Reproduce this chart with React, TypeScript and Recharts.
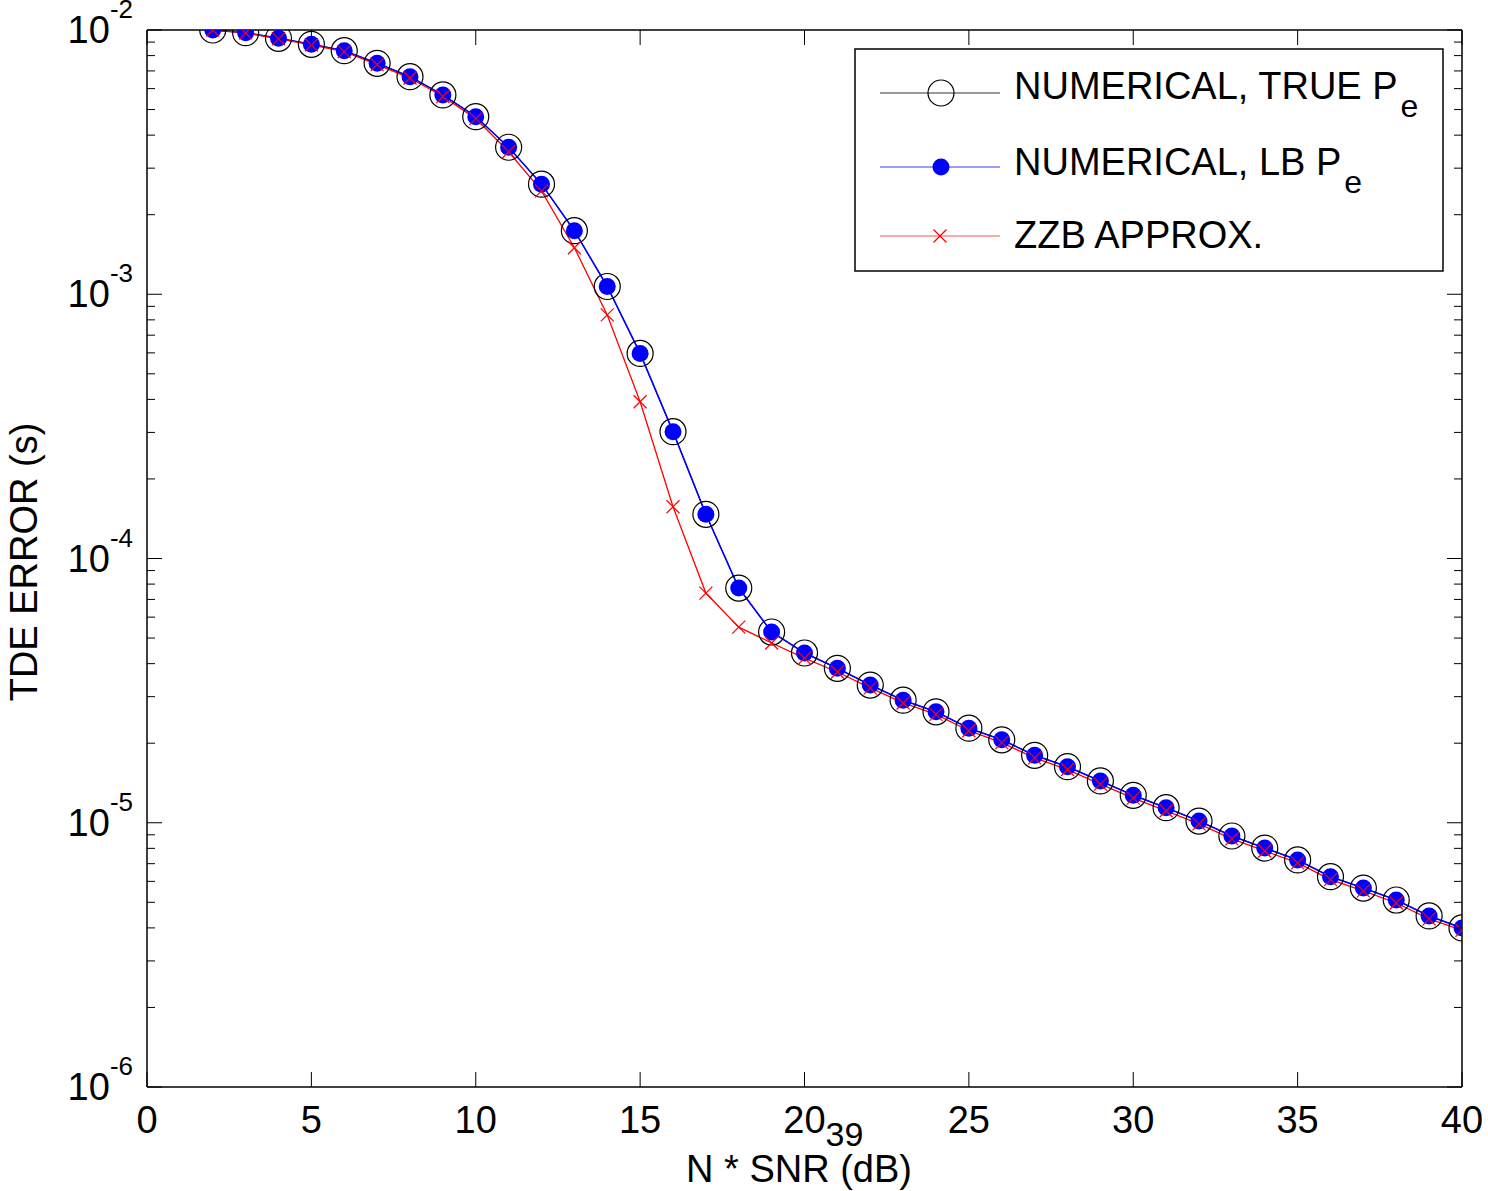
import React from 'react';
import { LineChart, Line, XAxis, YAxis } from 'recharts';

// ---------- data ----------
const snrDb = [2, 3, 4, 5, 6, 7, 8, 9, 10, 11, 12, 13, 14, 15, 16, 17, 18, 19, 20, 21, 22, 23, 24, 25, 26, 27, 28, 29, 30, 31, 32, 33, 34, 35, 36, 37, 38, 39, 40];

const numericalTruePe = [
  1.0e-2, 9.77e-3, 9.3e-3, 8.83e-3, 8.35e-3, 7.48e-3, 6.66e-3, 5.68e-3, 4.7e-3, 3.6e-3,
  2.61e-3, 1.74e-3, 1.07e-3, 5.97e-4, 3.02e-4, 1.47e-4, 7.73e-5, 5.27e-5, 4.39e-5, 3.84e-5,
  3.32e-5, 2.91e-5, 2.63e-5, 2.28e-5, 2.06e-5, 1.8e-5, 1.63e-5, 1.44e-5, 1.27e-5, 1.14e-5,
  1.015e-5, 8.91e-6, 8.02e-6, 7.23e-6, 6.25e-6, 5.66e-6, 5.1e-6, 4.44e-6, 4.0e-6,
];

const numericalLbPe = [
  1.0e-2, 9.77e-3, 9.3e-3, 8.83e-3, 8.35e-3, 7.48e-3, 6.66e-3, 5.68e-3, 4.7e-3, 3.6e-3,
  2.61e-3, 1.74e-3, 1.07e-3, 5.97e-4, 3.02e-4, 1.47e-4, 7.73e-5, 5.27e-5, 4.39e-5, 3.84e-5,
  3.32e-5, 2.91e-5, 2.63e-5, 2.28e-5, 2.06e-5, 1.8e-5, 1.63e-5, 1.44e-5, 1.27e-5, 1.14e-5,
  1.015e-5, 8.91e-6, 8.02e-6, 7.23e-6, 6.25e-6, 5.66e-6, 5.1e-6, 4.44e-6, 4.0e-6,
];

const zzbApprox = [
  1.0e-2, 9.75e-3, 9.25e-3, 8.78e-3, 8.28e-3, 7.4e-3, 6.58e-3, 5.6e-3, 4.62e-3, 3.46e-3,
  2.46e-3, 1.5e-3, 8.35e-4, 3.92e-4, 1.57e-4, 7.4e-5, 5.5e-5, 4.79e-5, 4.2e-5, 3.72e-5,
  3.24e-5, 2.84e-5, 2.57e-5, 2.23e-5, 2.01e-5, 1.76e-5, 1.59e-5, 1.4e-5, 1.24e-5, 1.11e-5,
  9.9e-6, 8.69e-6, 7.82e-6, 7.05e-6, 6.09e-6, 5.52e-6, 4.97e-6, 4.33e-6, 3.92e-6,
];

const xTicks = [0, 5, 10, 15, 20, 25, 30, 35, 40];
const decadeExponents = [-6, -5, -4, -3, -2];
const minorMantissas = [2, 3, 4, 5, 6, 7, 8, 9];

const seriesNames = ['NUMERICAL, TRUE P', 'NUMERICAL, LB P', 'ZZB APPROX.'];
const seriesSubscripts = ['e', 'e', ''];
const xLabel = 'N * SNR (dB)';
const yLabel = 'TDE ERROR (s)';

// ---------- derived structures ----------
const data = snrDb.map((x, i) => ({
  x,
  truePe: numericalTruePe[i],
  lbPe: numericalLbPe[i],
  zzb: zzbApprox[i],
}));

const yTicks: number[] = [];
decadeExponents.forEach((e, i) => {
  yTicks.push(Math.pow(10, e));
  if (i < decadeExponents.length - 1) {
    minorMantissas.forEach((m) => yTicks.push(m * Math.pow(10, e)));
  }
});

const FONT = '"Liberation Sans", Arial, Helvetica, sans-serif';
const MAJOR_LEN = 15;
const MINOR_LEN = 8;

const majorExp = (v: number) => {
  const l = Math.log10(v);
  const e = Math.round(l);
  return Math.abs(l - e) < 1e-6 ? e : null;
};

const YTickLeft = (props: any) => {
  const { x, y, payload } = props;
  const e = majorExp(payload.value);
  const len = e !== null ? MAJOR_LEN : MINOR_LEN;
  return (
    <g>
      <line x1={x} y1={y} x2={x + len} y2={y} stroke="#000" strokeWidth={1} />
      {e !== null && (
        <text x={x - 14} y={y + 13} textAnchor="end" fontFamily={FONT} fontSize={38} fill="#000">
          <tspan>10</tspan>
          <tspan dy={-25} fontSize={26}>{`${e}`}</tspan>
        </text>
      )}
    </g>
  );
};

const YTickRight = (props: any) => {
  const { x, y, payload } = props;
  const e = majorExp(payload.value);
  const len = e !== null ? MAJOR_LEN : MINOR_LEN;
  return <line x1={x} y1={y} x2={x - len} y2={y} stroke="#000" strokeWidth={1} />;
};

const XTickBottom = (props: any) => {
  const { x, y, payload } = props;
  const v = payload.value;
  return (
    <g>
      <line x1={x} y1={y} x2={x} y2={y - MAJOR_LEN} stroke="#000" strokeWidth={1} />
      <text x={x} y={y + 46} textAnchor="middle" fontFamily={FONT} fontSize={38} fill="#000">
        {`${v}`}
      </text>
      {v === 20 && (
        <text x={x + 21} y={y + 59} textAnchor="start" fontFamily={FONT} fontSize={34} fill="#000">
          39
        </text>
      )}
    </g>
  );
};

const XTickTop = (props: any) => {
  const { x, y } = props;
  return <line x1={x} y1={y} x2={x} y2={y + MAJOR_LEN} stroke="#000" strokeWidth={1} />;
};

const CrossDot = (props: any) => {
  const { cx, cy } = props;
  if (cx == null || cy == null) return <g />;
  const s = 6.5;
  return (
    <g>
      <line x1={cx - s} y1={cy - s} x2={cx + s} y2={cy + s} stroke="#ff0000" strokeWidth={1.2} />
      <line x1={cx - s} y1={cy + s} x2={cx + s} y2={cy - s} stroke="#ff0000" strokeWidth={1.2} />
    </g>
  );
};

const Overlay = () => {
  const rows = [93, 167, 236];
  const baselines = [99, 175, 248];
  return (
    <svg
      width={1488}
      height={1191}
      style={{ position: 'absolute', left: 0, top: 0, pointerEvents: 'none' }}
    >
      {/* axis titles */}
      <text
        x={37}
        y={562}
        transform="rotate(-90 37 562)"
        textAnchor="middle"
        fontFamily={FONT}
        fontSize={38}
        fill="#000"
      >
        {yLabel}
      </text>
      <text x={799} y={1182} textAnchor="middle" fontFamily={FONT} fontSize={38} fill="#000">
        {xLabel}
      </text>

      {/* legend */}
      <rect x={855} y={49} width={588} height={222} fill="#fff" stroke="#000" strokeWidth={1.5} />
      {/* row 1: black circles */}
      <line x1={880} y1={rows[0]} x2={1000} y2={rows[0]} stroke="#333" strokeWidth={1} />
      <circle cx={941} cy={rows[0]} r={13} fill="none" stroke="#000" strokeWidth={1.2} />
      {/* row 2: blue dots */}
      <line x1={880} y1={rows[1]} x2={1000} y2={rows[1]} stroke="#3a3aff" strokeWidth={1} />
      <circle cx={941} cy={rows[1]} r={8.5} fill="#0000ff" />
      {/* row 3: red crosses */}
      <line x1={880} y1={rows[2]} x2={1000} y2={rows[2]} stroke="#ff5050" strokeWidth={1.2} />
      <CrossDot cx={940} cy={rows[2]} />
      {seriesNames.map((name, i) => (
        <text key={name} x={1014} y={baselines[i]} fontFamily={FONT} fontSize={38} fill="#000">
          <tspan>{name}</tspan>
          {seriesSubscripts[i] && (
            <tspan dy={18} dx={3} fontSize={32}>
              {seriesSubscripts[i]}
            </tspan>
          )}
        </text>
      ))}
    </svg>
  );
};

export default function App() {
  return (
    <div style={{ position: 'absolute', left: 0, top: 0, width: 1488, height: 1191, background: '#fff' }}>
      <LineChart
        width={1488}
        height={1191}
        data={data}
        margin={{ top: 29, right: 25, bottom: 44, left: 0 }}
      >
        <XAxis
          xAxisId="bottom"
          dataKey="x"
          type="number"
          domain={[0, 40]}
          ticks={xTicks}
          interval={0}
          allowDataOverflow
          height={60}
          tickSize={0}
          tickMargin={0}
          tickLine={false}
          axisLine={{ stroke: '#000', strokeWidth: 1.5 }}
          tick={<XTickBottom />}
        />
        <XAxis
          xAxisId="top"
          orientation="top"
          dataKey="x"
          type="number"
          domain={[0, 40]}
          ticks={xTicks}
          interval={0}
          allowDataOverflow
          height={1}
          tickSize={0}
          tickMargin={0}
          tickLine={false}
          axisLine={{ stroke: '#000', strokeWidth: 1.5 }}
          tick={<XTickTop />}
        />
        <YAxis
          yAxisId="left"
          type="number"
          scale="log"
          domain={[1e-6, 1e-2]}
          ticks={yTicks}
          interval={0}
          allowDataOverflow
          width={147}
          tickSize={0}
          tickMargin={0}
          tickLine={false}
          axisLine={{ stroke: '#000', strokeWidth: 1.5 }}
          tick={<YTickLeft />}
        />
        <YAxis
          yAxisId="right"
          orientation="right"
          type="number"
          scale="log"
          domain={[1e-6, 1e-2]}
          ticks={yTicks}
          interval={0}
          allowDataOverflow
          width={1}
          tickSize={0}
          tickMargin={0}
          tickLine={false}
          axisLine={{ stroke: '#000', strokeWidth: 1.5 }}
          tick={<YTickRight />}
        />
        <Line
          xAxisId="top"
          yAxisId="right"
          dataKey="lbPe"
          stroke="none"
          dot={false}
          activeDot={false}
          legendType="none"
          isAnimationActive={false}
        />
        <Line
          xAxisId="bottom"
          yAxisId="left"
          type="linear"
          dataKey="truePe"
          stroke="#000"
          strokeWidth={1}
          dot={{ r: 13, fill: 'none', stroke: '#000', strokeWidth: 1.2 }}
          activeDot={false}
          isAnimationActive={false}
        />
        <Line
          xAxisId="bottom"
          yAxisId="left"
          type="linear"
          dataKey="lbPe"
          stroke="#0000ff"
          strokeWidth={1.6}
          dot={{ r: 8.5, fill: '#0000ff', stroke: 'none' }}
          activeDot={false}
          isAnimationActive={false}
        />
        <Line
          xAxisId="bottom"
          yAxisId="left"
          type="linear"
          dataKey="zzb"
          stroke="#ff0000"
          strokeWidth={1.3}
          dot={(p: any) => <CrossDot key={`zz-${p.index}`} cx={p.cx} cy={p.cy} />}
          activeDot={false}
          isAnimationActive={false}
        />
      </LineChart>
      <Overlay />
    </div>
  );
}
